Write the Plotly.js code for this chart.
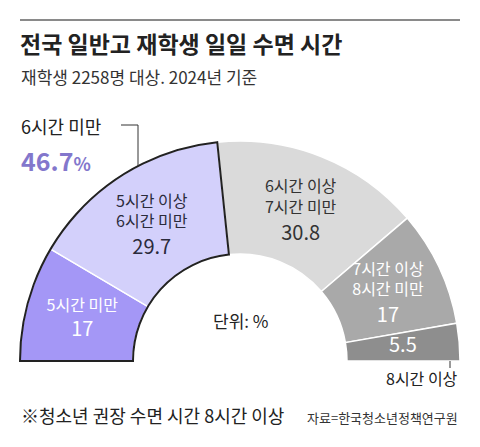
<!DOCTYPE html>
<html>
<head>
<meta charset="utf-8">
<script src="https://cdn.plot.ly/plotly-3.0.1.min.js"></script>
<style>
  html, body { margin: 0; padding: 0; background: #fff; }
  #chart { width: 480px; height: 447px; }
</style>
</head>
<body>
<div id="chart"></div>
<script>
// 재학생 일일 수면 시간 분포 (%)
var categories = ['5시간 미만', '5시간 이상<br>6시간 미만', '6시간 이상<br>7시간 미만', '7시간 이상<br>8시간 미만', '8시간 이상']
var shares = [17, 29.7, 30.8, 17, 5.5]
var slice_colors = ['#a497f6', '#d3d0fb', '#dadada', '#a9a9a9', '#8e8e8e']
var text_colors = ['#ffffff', '#2b2b3b', '#333333', '#ffffff', '#ffffff']
var show_label = [true, true, true, true, false]   // 8시간 이상 label sits outside the ring

var FONT = '"Noto Sans CJK KR", sans-serif'
var W = 480, H = 447
var BLANK = '\u00a0'

// half circle = 100 %, so 1 % = 1.8 degrees
var deg = shares.map(v => v * 1.8)
var starts = []
var acc = 0
deg.forEach(d => { starts.push(acc); acc += d })
var mids = starts.map((s, i) => s + deg[i] / 2)

var under6 = shares[0] + shares[1]   // 46.7

// pad with blank lines so names sit above and values below the slice centre
var name_text = categories.map((c, i) => show_label[i] ? c + '<br>' + BLANK : '')
var value_text = shares.map((v, i) => {
  if (!show_label[i]) return String(v)
  var lines = categories[i].split('<br>').length
  return (lines > 1 ? BLANK + '<br>' + BLANK + '<br>' : BLANK + '<br>') + v
})

var data = [
  {
    type: 'barpolar',
    r: shares.map(() => 1),
    theta: mids,
    width: deg,
    marker: {
      color: slice_colors,
      line: {color: '#ffffff', width: 1.5}
    },
    hoverinfo: 'skip'
  },
  {
    // outline around the "6시간 미만" group
    type: 'barpolar',
    r: [1],
    theta: [under6 * 1.8 / 2],
    width: [under6 * 1.8],
    marker: {
      color: 'rgba(0,0,0,0)',
      line: {color: '#222222', width: 2}
    },
    hoverinfo: 'skip'
  },
  {
    // slice names
    type: 'scatterpolar',
    mode: 'text',
    r: shares.map(() => 0.5),
    theta: mids,
    text: name_text,
    textposition: 'middle center',
    textfont: {family: FONT, size: 16, color: text_colors},
    hoverinfo: 'skip'
  },
  {
    // slice values
    type: 'scatterpolar',
    mode: 'text',
    r: shares.map(() => 0.5),
    theta: mids,
    text: value_text,
    textposition: 'middle center',
    textfont: {family: FONT, size: 20, color: text_colors},
    hoverinfo: 'skip'
  }
]

function px(x) { return x / W }
function py(y) { return 1 - y / H }

var layout = {
  width: W,
  height: H,
  margin: {l: 0, r: 0, t: 0, b: 0},
  paper_bgcolor: '#ffffff',
  showlegend: false,
  font: {family: FONT, color: '#222222'},
  polar: {
    domain: {x: [px(18.3), px(461.7)], y: [py(364.9), py(139.3)]},
    sector: [-1, 181],
    hole: 0.475,
    bgcolor: 'rgba(0,0,0,0)',
    radialaxis: {visible: false, range: [-0.015, 1.015]},
    angularaxis: {visible: false, rotation: 180, direction: 'clockwise', thetaunit: 'degrees'}
  },
  shapes: [
    // top rule
    {type: 'line', xref: 'paper', yref: 'paper', x0: px(20), x1: px(460), y0: py(20), y1: py(20),
      line: {color: '#8a8a8a', width: 2}},
    // bracket to the 6시간 미만 group
    {type: 'path', xref: 'paper', yref: 'paper',
      path: 'M ' + px(121) + ' ' + py(125) + ' L ' + px(138) + ' ' + py(125) + ' L ' + px(138) + ' ' + py(166),
      line: {color: '#333333', width: 1}},
    // tick to 8시간 이상
    {type: 'line', xref: 'paper', yref: 'paper', x0: px(450), x1: px(450), y0: py(361), y1: py(368),
      line: {color: '#333333', width: 1}}
  ],
  annotations: [
    {xref: 'paper', yref: 'paper', x: px(18), y: py(43), xanchor: 'left', yanchor: 'middle', showarrow: false,
      text: '<b>전국 일반고 재학생 일일 수면 시간</b>', font: {family: FONT, size: 23, color: '#222222'}},
    {xref: 'paper', yref: 'paper', x: px(19), y: py(76), xanchor: 'left', yanchor: 'middle', showarrow: false,
      text: '재학생 2258명 대상. 2024년 기준', font: {family: FONT, size: 17, color: '#333333'}},
    {xref: 'paper', yref: 'paper', x: px(19), y: py(126), xanchor: 'left', yanchor: 'middle', showarrow: false,
      text: '6시간 미만', font: {family: FONT, size: 18, color: '#222222'}},
    {xref: 'paper', yref: 'paper', x: px(19), y: py(160), xanchor: 'left', yanchor: 'middle', showarrow: false,
      text: '<b>' + under6.toFixed(1) + '<span style="font-size:18px">%</span></b>', font: {family: FONT, size: 25, color: '#8377cc'}},
    {xref: 'paper', yref: 'paper', x: px(240), y: py(320), xanchor: 'center', yanchor: 'middle', showarrow: false,
      text: '단위: %', font: {family: FONT, size: 17, color: '#222222'}},
    {xref: 'paper', yref: 'paper', x: px(460), y: py(378), xanchor: 'right', yanchor: 'middle', showarrow: false,
      text: categories[4], font: {family: FONT, size: 16, color: '#222222'}},
    {xref: 'paper', yref: 'paper', x: px(19), y: py(415), xanchor: 'left', yanchor: 'middle', showarrow: false,
      text: '※청소년 권장 수면 시간 8시간 이상', font: {family: FONT, size: 18, color: '#222222'}},
    {xref: 'paper', yref: 'paper', x: px(460), y: py(417), xanchor: 'right', yanchor: 'middle', showarrow: false,
      text: '자료=한국청소년정책연구원', font: {family: FONT, size: 13, color: '#333333'}}
  ]
}

var config = {responsive: false, displayModeBar: false}

Plotly.newPlot('chart', data, layout, config)
</script>
</body>
</html>
